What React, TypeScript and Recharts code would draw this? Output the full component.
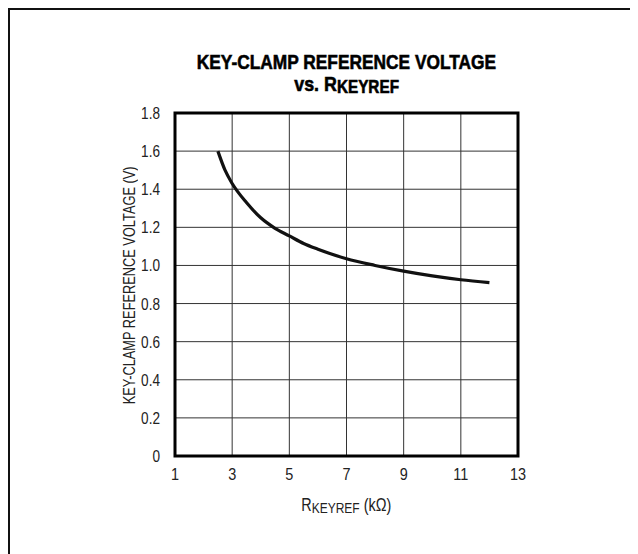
import React from "react";
import { LineChart, Line, XAxis, YAxis, CartesianGrid, ReferenceArea } from "recharts";

const rKeyref = [2.5, 2.75, 3, 3.5, 4, 4.5, 5, 5.5, 6, 7, 8, 9, 10, 11, 12];
const vClamp = [1.6, 1.5, 1.43, 1.33, 1.25, 1.195, 1.155, 1.115, 1.085, 1.035, 1.0, 0.97, 0.945, 0.925, 0.91];
const xTicks = [1, 3, 5, 7, 9, 11, 13];
const yTicks = [0, 0.2, 0.4, 0.6, 0.8, 1.0, 1.2, 1.4, 1.6, 1.8];

const data = rKeyref.map((x, i) => ({ x, v: vClamp[i] }));

const FONT = "'Liberation Sans', Arial, sans-serif";
const SX = 0.8;

const YTick = (props: any) => {
  const { x, y, payload } = props;
  const v = payload.value as number;
  const s = v === 0 ? "0" : v.toFixed(1);
  return (
    <text
      x={x}
      y={y}
      dy={6}
      textAnchor="end"
      fill="#222"
      fontSize={17}
      fontFamily={FONT}
      transform={`translate(${x},${y}) scale(${SX},1) translate(${-x},${-y})`}
    >
      {s}
    </text>
  );
};

const XTick = (props: any) => {
  const { x, y, payload } = props;
  return (
    <text
      x={x}
      y={y}
      dy={16}
      textAnchor="middle"
      fill="#222"
      fontSize={17}
      fontFamily={FONT}
      transform={`translate(${x},${y}) scale(0.85,1) translate(${-x},${-y})`}
    >
      {String(payload.value)}
    </text>
  );
};

export default function App() {
  return (
    <div
      style={{
        position: "relative",
        width: 640,
        height: 560,
        borderTop: "2px solid #111",
        borderLeft: "2px solid #111",
        fontFamily: FONT,
        color: "#222",
        background: "#fff",
      }}
    >
      <div
        style={{
          position: "absolute",
          left: 0,
          top: 40,
          width: 673,
          textAlign: "center",
          fontWeight: 700,
          fontSize: 21,
          lineHeight: "24px",
          color: "#000",
        }}
      >
        <span
          style={{
            display: "inline-block",
            transform: "scale(0.825,1)",
            whiteSpace: "nowrap",
            WebkitTextStroke: "0.6px #000",
          }}
        >
          KEY-CLAMP REFERENCE VOLTAGE
        </span>
      </div>
      <div
        style={{
          position: "absolute",
          left: 0,
          top: 62,
          width: 673,
          textAlign: "center",
          fontWeight: 700,
          fontSize: 21,
          lineHeight: "24px",
          color: "#000",
        }}
      >
        <span
          style={{
            display: "inline-block",
            transform: "scale(0.85,1)",
            whiteSpace: "nowrap",
            WebkitTextStroke: "0.6px #000",
          }}
        >
          vs. R<span style={{ fontSize: 18, position: "relative", top: 2 }}>KEYREF</span>
        </span>
      </div>
      <div
        style={{
          position: "absolute",
          left: 0,
          top: 484,
          width: 673,
          textAlign: "center",
          fontSize: 18,
          lineHeight: "22px",
          color: "#222",
        }}
      >
        <span style={{ display: "inline-block", transform: "scale(0.8,1)", whiteSpace: "nowrap" }}>
          R<span style={{ fontSize: 15, position: "relative", top: 2 }}>KEYREF</span> (kΩ)
        </span>
      </div>
      <div
        style={{
          position: "absolute",
          left: 120 - 150,
          top: 275 - 10,
          width: 300,
          height: 20,
          textAlign: "center",
          fontSize: 16,
          lineHeight: "20px",
          color: "#222",
          transform: "rotate(-90deg)",
          transformOrigin: "50% 50%",
        }}
      >
        <span style={{ display: "inline-block", transform: "scale(0.8,1)", whiteSpace: "nowrap" }}>
          KEY-CLAMP REFERENCE VOLTAGE (V)
        </span>
      </div>
      <div style={{ position: "absolute", left: 0, top: 0 }}>
        <LineChart
          width={620}
          height={540}
          data={data}
          margin={{ top: 103, right: 112, bottom: 34, left: 105 }}
        >
          <CartesianGrid stroke="#333" strokeWidth={1} />
          <XAxis
            dataKey="x"
            type="number"
            domain={[1, 13]}
            ticks={xTicks}
            axisLine={false}
            tickLine={false}
            tickSize={0}
            tickMargin={8}
            height={60}
            tick={<XTick />}
          />
          <YAxis
            type="number"
            domain={[0, 1.8]}
            ticks={yTicks}
            axisLine={false}
            tickLine={false}
            tickSize={0}
            tickMargin={15}
            width={60}
            tick={<YTick />}
          />
          <ReferenceArea
            x1={1}
            x2={13}
            y1={0}
            y2={1.8}
            fill="none"
            stroke="#000"
            strokeWidth={3}
            ifOverflow="visible"
          />
          <Line
            dataKey="v"
            type="monotone"
            stroke="#111"
            strokeWidth={3.2}
            dot={false}
            isAnimationActive={false}
          />
        </LineChart>
      </div>
    </div>
  );
}
